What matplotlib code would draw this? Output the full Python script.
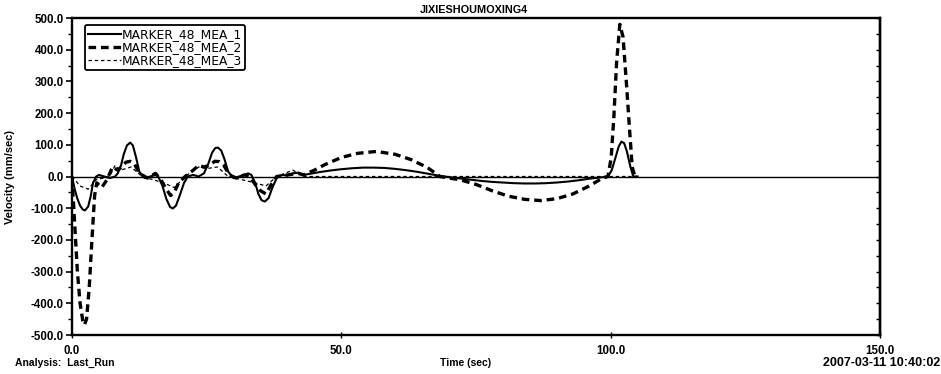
import matplotlib
matplotlib.use("Agg")
import matplotlib.pyplot as plt
from matplotlib.ticker import MultipleLocator, FormatStrFormatter, NullFormatter

plt.rcParams['font.family'] = ['Liberation Sans', 'DejaVu Sans']
plt.rcParams['lines.scale_dashes'] = False

title = "JIXIESHOUMOXING4"
series_names = ["MARKER_48_MEA_1", "MARKER_48_MEA_2", "MARKER_48_MEA_3"]

t1 = [0, 0.5, 1, 1.5, 2, 2.4, 3, 3.5, 3.9, 4.5, 5, 6, 7, 8, 8.5, 9.1, 9.6, 10.2,
      10.8, 11.3, 11.9, 12.5, 13.5, 14.5, 15.5, 16, 16.8, 17.5, 18.2, 18.7, 19.3,
      20, 20.8, 21.5, 22.5, 23.5, 24.5, 25.3, 26, 26.6, 27.1, 27.7, 28.3, 29, 30,
      31, 32, 32.7, 33.3, 34, 34.6, 35.2, 35.8, 36.5, 37.2, 38, 39, 40, 41, 42, 43,
      44, 46, 48, 50, 52, 54, 56, 58, 60, 62, 64, 66, 68, 70, 72, 74, 76, 78, 80,
      82, 84, 86, 88, 90, 92, 94, 96, 98, 99.5, 100.2, 100.9, 101.5, 102, 102.5,
      103, 103.6, 104.2, 105]
v1 = [0, -40, -70, -92, -104, -107, -95, -60, -20, 0, 5, 0, -5, 0, 10, 35, 70, 98,
      107, 98, 60, 15, -5, 0, 5, 0, -30, -70, -96, -101, -92,
      -60, -20, 0, 5, 0, 10, 40, 75, 90, 91, 82, 55, 15, -5,
      0, 5, 10, 5, -20, -55, -75, -79, -68, -35, -5, 5, 3, 10, 12, 5,
      8, 14, 19, 23, 26, 28, 28, 27, 24, 20, 15, 9, 3, -2, -6, -10, -14, -17, -19,
      -21, -22, -22, -21, -19, -16, -12, -7, -3, 0, 20, 60, 95, 110, 105,
      80, 35, 0, 0]

t2 = [0, 0.5, 1, 1.5, 2, 2.3, 2.7, 3.2, 3.7, 4.2, 4.6, 5.5, 6.5, 7.5, 8.5, 9.2, 10,
      10.8, 11.6, 12.5, 14, 15.5, 16.5, 17.5, 18.3, 19, 19.8, 21, 22.5, 23.5, 24.5,
      25.5, 26.5, 27.3, 28.2, 29.2, 30.5, 32, 33, 34, 35, 36, 37, 38, 40, 42, 43,
      45, 47, 50, 53, 56.5, 60, 63, 66, 68.3, 70, 72, 75, 78, 81, 84, 87, 90, 93,
      96, 98.5, 99.5, 100.1, 100.6, 101.1, 101.7, 102.3, 102.9, 103.5, 104, 104.5, 105]
v2 = [0, -150, -300, -400, -455, -468, -450, -350, -200, -60, -20, -35, -10, 30, 20, 30, 45,
      48, 40, 10, -5, 10, -10, -40, -60, -50, -20, 0, 20, 35, 30,
      35, 48, 47, 35, 5, -5, 5, 0, -25, -45, -55, -25, 0, 5, 10, 5,
      20, 38, 60, 73, 79, 70, 53, 28, 0, -5, -10, -25, -45, -62, -72, -76, -70, -55,
      -30, -5, 0, 60, 190, 360, 480, 440, 300, 150, 30, 0, 0]

t3 = [0, 1.5, 3, 4.5, 7, 8, 9, 11, 13, 17, 19, 21, 23.5, 25, 27, 29, 34, 36, 38, 41,
      43, 105]
v3 = [0, -30, -40, -10, 0, 35, 20, 30, 0, -20, -35, 0, 30, 25, 30, 0, -20, -30, 0, 20,
      0, 0]

W, H = 941, 374
fig = plt.figure(figsize=(W / 100, H / 100), dpi=100)
ax = fig.add_axes([72 / W, 1 - 335 / H, 808 / W, 317 / H])

ax.axhline(0, color='black', lw=1.0, zorder=1)
ax.plot(t1, v1, color='black', lw=1.5, ls='-', label=series_names[0], zorder=3)
ax.plot(t2, v2, color='black', lw=2.4, dashes=(5.5, 3.5), label=series_names[1], zorder=3)
ax.plot(t3, v3, color='black', lw=0.9, dashes=(2.5, 2.0), label=series_names[2], zorder=3)

ax.set_xlim(0, 150)
ax.set_ylim(-500, 500)
ax.xaxis.set_major_locator(MultipleLocator(50))
ax.yaxis.set_major_locator(MultipleLocator(100))
ax.yaxis.set_minor_locator(MultipleLocator(50))
ax.xaxis.set_major_formatter(FormatStrFormatter('%.1f'))
ax.yaxis.set_major_formatter(FormatStrFormatter('%.1f'))
ax.tick_params(axis='y', which='both', direction='out', right=False, labelsize=8.3, pad=2)
ax.tick_params(axis='y', which='major', length=4, width=1.2)
ax.tick_params(axis='y', which='minor', length=3, width=1.0)
ax.tick_params(axis='x', which='major', direction='inout', length=5, width=1.0,
               labelsize=8.3, pad=5, top=False)
for lab in ax.get_xticklabels() + ax.get_yticklabels():
    lab.set_fontweight('bold')
for sp in ax.spines.values():
    sp.set_linewidth(1.7)

sec = ax.secondary_yaxis('right')
sec.yaxis.set_major_locator(MultipleLocator(100))
sec.yaxis.set_minor_locator(MultipleLocator(50))
sec.yaxis.set_major_formatter(NullFormatter())
sec.tick_params(which='both', direction='in', length=3, width=1.0)
sec.spines['right'].set_linewidth(1.7)

fig.text(10 / W, 1 - 177 / H, "Velocity (mm/sec)", rotation=90, fontsize=8,
         fontweight='bold', ha='center', va='center')
fig.text(466 / W, 1 - 363 / H, "Time (sec)", fontsize=7.5, fontweight='bold',
         ha='center', va='center')
fig.text(474 / W, 1 - 10 / H, title, fontsize=7.8, fontweight='bold',
         ha='center', va='center')
fig.text(15 / W, 1 - 363 / H, "Analysis:  Last_Run", fontsize=7.5, fontweight='bold',
         ha='left', va='center')
fig.text(940 / W, 1 - 363 / H, "2007-03-11 10:40:02", fontsize=9, fontweight='bold',
         ha='right', va='center')

leg = ax.legend(loc='upper left', bbox_to_anchor=(13 / 808, 1 - 7 / 317),
                prop={'family': 'DejaVu Sans', 'size': 8.8},
                handlelength=2.7, handletextpad=0.05, borderpad=0.25,
                labelspacing=0.0, borderaxespad=0, fancybox=True, framealpha=1)
leg.get_frame().set_edgecolor('black')
leg.get_frame().set_linewidth(1.3)

fig.savefig("out.png", dpi=100)
